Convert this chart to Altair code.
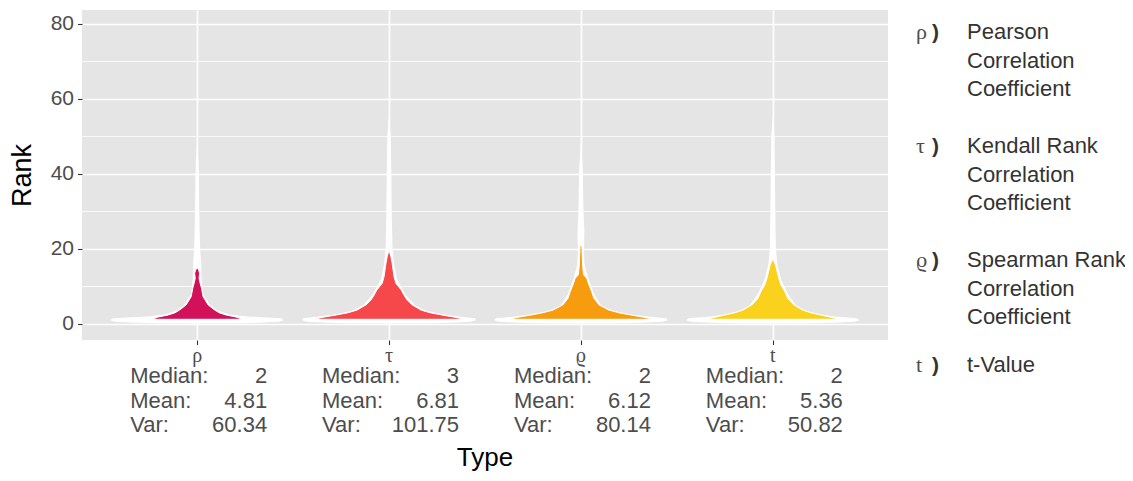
import altair as alt
import pandas as pd

# ---------------- data ----------------
TYPES = ["ρ", "τ", "ϱ", "t"]
POSITIONS = [1, 2, 3, 4]
COLORS = ["#D3115A", "#F6474A", "#F89C0F", "#FAD21E"]
MEDIANS = ["2", "3", "2", "2"]
MEANS = ["4.81", "6.81", "6.12", "5.36"]
VARIANCES = ["60.34", "101.75", "80.14", "50.82"]
LEGEND_LABELS = [
    ["Pearson", "Correlation", "Coefficient"],
    ["Kendall Rank", "Correlation", "Coefficient"],
    ["Spearman Rank", "Correlation", "Coefficient"],
    ["t-Value"],
]
Y_TICKS = [0, 20, 40, 60, 80]
Y_MINOR = [10, 30, 50, 70]

# white (full) violins: rank grid and half widths (category units)
WHITE_RANK = [0.1, 0.3, 0.6, 1.0, 1.5, 2.0, 2.6, 3.5, 5, 8, 12, 16, 20, 25, 30, 40, 50, 56]
WHITE_HALF_RHO = [0.182, 0.323, 0.427, 0.453, 0.438, 0.260, 0.161, 0.109, 0.068, 0.031,
                  0.023, 0.021, 0.016, 0.013, 0.011, 0.009, 0.0, 0.0]
WHITE_HALF_TAU = [0.182, 0.323, 0.427, 0.453, 0.448, 0.365, 0.271, 0.193, 0.135, 0.083,
                  0.042, 0.026, 0.018, 0.016, 0.014, 0.012, 0.009, 0.0]
WHITE_HALF_VARRHO = [0.182, 0.323, 0.427, 0.453, 0.443, 0.344, 0.245, 0.167, 0.104, 0.068,
                     0.039, 0.018, 0.016, 0.018, 0.013, 0.010, 0.0, 0.0]
WHITE_HALF_T = [0.182, 0.323, 0.427, 0.453, 0.438, 0.323, 0.240, 0.172, 0.120, 0.078,
                0.042, 0.023, 0.016, 0.014, 0.013, 0.011, 0.008, 0.0]

# coloured violins
FILL_RANK_RHO = [1.25, 1.8, 2.4, 3.0, 3.7, 5.1, 7.3, 9.5, 10.8, 12.2, 13.5, 14.4, 15.0]
FILL_HALF_RHO = [0.234, 0.208, 0.151, 0.115, 0.092, 0.057, 0.031, 0.023, 0.016, 0.010,
                 0.013, 0.008, 0.0]
FILL_RANK_TAU = [1.25, 1.8, 2.4, 3.0, 3.7, 5.1, 6.4, 7.7, 9.1, 10.8, 12.6, 14.4, 16.2, 17.9, 19.7]
FILL_HALF_TAU = [0.391, 0.344, 0.276, 0.214, 0.167, 0.120, 0.094, 0.078, 0.063, 0.036,
                 0.026, 0.021, 0.016, 0.010, 0.0]
FILL_RANK_VARRHO = [1.25, 1.8, 2.4, 3.0, 3.7, 5.1, 6.8, 8.6, 10.4, 12.2, 13.1, 15.3, 17.9, 20.6, 21.3]
FILL_HALF_VARRHO = [0.375, 0.328, 0.260, 0.198, 0.146, 0.094, 0.068, 0.056, 0.042, 0.030,
                    0.014, 0.009, 0.007, 0.005, 0.0]
FILL_RANK_T = [1.25, 1.8, 2.4, 3.0, 3.7, 5.1, 6.8, 8.6, 10.4, 12.2, 14.0, 15.8, 17.3]
FILL_HALF_T = [0.344, 0.302, 0.250, 0.198, 0.156, 0.109, 0.078, 0.063, 0.042, 0.031,
               0.022, 0.014, 0.0]

# ---------------- tables ----------------
white_halves = [WHITE_HALF_RHO, WHITE_HALF_TAU, WHITE_HALF_VARRHO, WHITE_HALF_T]
fill_ranks = [FILL_RANK_RHO, FILL_RANK_TAU, FILL_RANK_VARRHO, FILL_RANK_T]
fill_halves = [FILL_HALF_RHO, FILL_HALF_TAU, FILL_HALF_VARRHO, FILL_HALF_T]

white_rows, fill_rows = [], []
for ty, pos, wh, fr, fh in zip(TYPES, POSITIONS, white_halves, fill_ranks, fill_halves):
    for r, h in zip(WHITE_RANK, wh):
        white_rows.append({"type": ty, "rank": r, "lo": pos - h, "hi": pos + h})
    for r, h in zip(fr, fh):
        fill_rows.append({"type": ty, "rank": r, "lo": pos - h, "hi": pos + h})
white_df = pd.DataFrame(white_rows)
fill_df = pd.DataFrame(fill_rows)
minor_df = pd.DataFrame({"rank": Y_MINOR})
stats_df = pd.DataFrame({
    "type": TYPES,
    "pos": POSITIONS,
    "values": [f"{m}\n{a}\n{v}" for m, a, v in zip(MEDIANS, MEANS, VARIANCES)],
})

# ---------------- style ----------------
SANS = "Liberation Sans"
SERIF = "Liberation Serif, DejaVu Serif"
LABEL_GREY = "#4D4D4D"

x_scale = alt.Scale(domain=[0.4, 4.6], nice=False, zero=False)
y_scale = alt.Scale(domain=[-4.27, 83.73], nice=False, zero=False)

x_axis = alt.Axis(values=POSITIONS, labels=False, ticks=True, tickSize=4.5, tickWidth=1.1,
                  tickColor="#333333", domain=False, grid=True, gridColor="white",
                  gridWidth=1.6, title=None)
y_axis = alt.Axis(values=Y_TICKS, ticks=True, tickSize=4.5, tickWidth=1.1, tickColor="#333333",
                  domain=False, grid=True, gridColor="white", gridWidth=1.6,
                  labelFont=SANS, labelFontSize=21, labelColor=LABEL_GREY, labelPadding=4,
                  title="Rank", titleFont=SANS, titleFontSize=27, titleFontWeight="normal",
                  titleColor="black", titleX=-60, titleY=165, titleAngle=270,
                  titleAlign="center", titleBaseline="middle")


def X(field):
    return alt.X(field, scale=x_scale, axis=x_axis)


def Y(field):
    return alt.Y(field, scale=y_scale, axis=y_axis)


minor = alt.Chart(minor_df).mark_rule(color="white", strokeWidth=0.8).encode(y=Y("rank:Q"))

white = alt.Chart(white_df).mark_area(orient="horizontal", color="white").encode(
    y=Y("rank:Q"), x=X("lo:Q"), x2="hi:Q", detail="type:N"
)

colored = alt.Chart(fill_df).mark_area(orient="horizontal", stroke="white", strokeWidth=1,
                                       fillOpacity=1).encode(
    y=Y("rank:Q"), x=X("lo:Q"), x2="hi:Q",
    color=alt.Color("type:N", scale=alt.Scale(domain=TYPES, range=COLORS), legend=None),
)

greek = alt.Chart(stats_df).mark_text(font=SERIF, fontSize=20, color=LABEL_GREY,
                                      baseline="alphabetic").encode(
    x=X("pos:Q"), y=alt.value(352), text="type:N"
)

stat_names = alt.Chart(stats_df).mark_text(
    font=SANS, fontSize=22, color=LABEL_GREY, align="left", baseline="alphabetic",
    dx=-67, lineBreak="\n", lineHeight=24.5, text="Median:\nMean:\nVar:"
).encode(x=X("pos:Q"), y=alt.value(373))

stat_values = alt.Chart(stats_df).mark_text(
    font=SANS, fontSize=22, color=LABEL_GREY, align="right", baseline="alphabetic",
    dx=70, lineBreak="\n", lineHeight=24.5
).encode(x=X("pos:Q"), y=alt.value(373), text="values:N")

LEGEND_Y = [29, 143, 257, 362]
legend_layers = []
for ty, lines, ly in zip(TYPES, LEGEND_LABELS, LEGEND_Y):
    d = pd.DataFrame({"sym": [ty], "label": ["\n".join(lines)]})
    legend_layers.append(
        alt.Chart(d).mark_text(font=SERIF, fontSize=22, color=LABEL_GREY, align="left",
                               baseline="alphabetic").encode(
            x=alt.value(834), y=alt.value(ly), text="sym:N")
    )
    legend_layers.append(
        alt.Chart(d).mark_text(font=SANS, fontSize=21, fontWeight="bold", color="#333333",
                               align="left", baseline="alphabetic", text=")").encode(
            x=alt.value(850), y=alt.value(ly))
    )
    legend_layers.append(
        alt.Chart(d).mark_text(font=SANS, fontSize=22, color="#333333", align="left",
                               baseline="alphabetic", lineBreak="\n", lineHeight=28.6).encode(
            x=alt.value(885), y=alt.value(ly), text="label:N")
    )

type_title = alt.Chart(pd.DataFrame({"t": ["Type"]})).mark_text(
    font=SANS, fontSize=26, color="black", align="center", baseline="alphabetic"
).encode(x=alt.value(403), y=alt.value(456), text="t:N")

chart = alt.layer(
    minor, white, colored, greek, stat_names, stat_values, *legend_layers, type_title
).properties(
    width=806, height=330,
    padding={"left": 74, "top": 2, "right": 237, "bottom": 133},
    autosize=alt.AutoSizeParams(type="none"),
).configure_view(fill="#E5E5E5", strokeWidth=0)

chart.save("out.html", embed_options={"renderer": "svg", "actions": False})
